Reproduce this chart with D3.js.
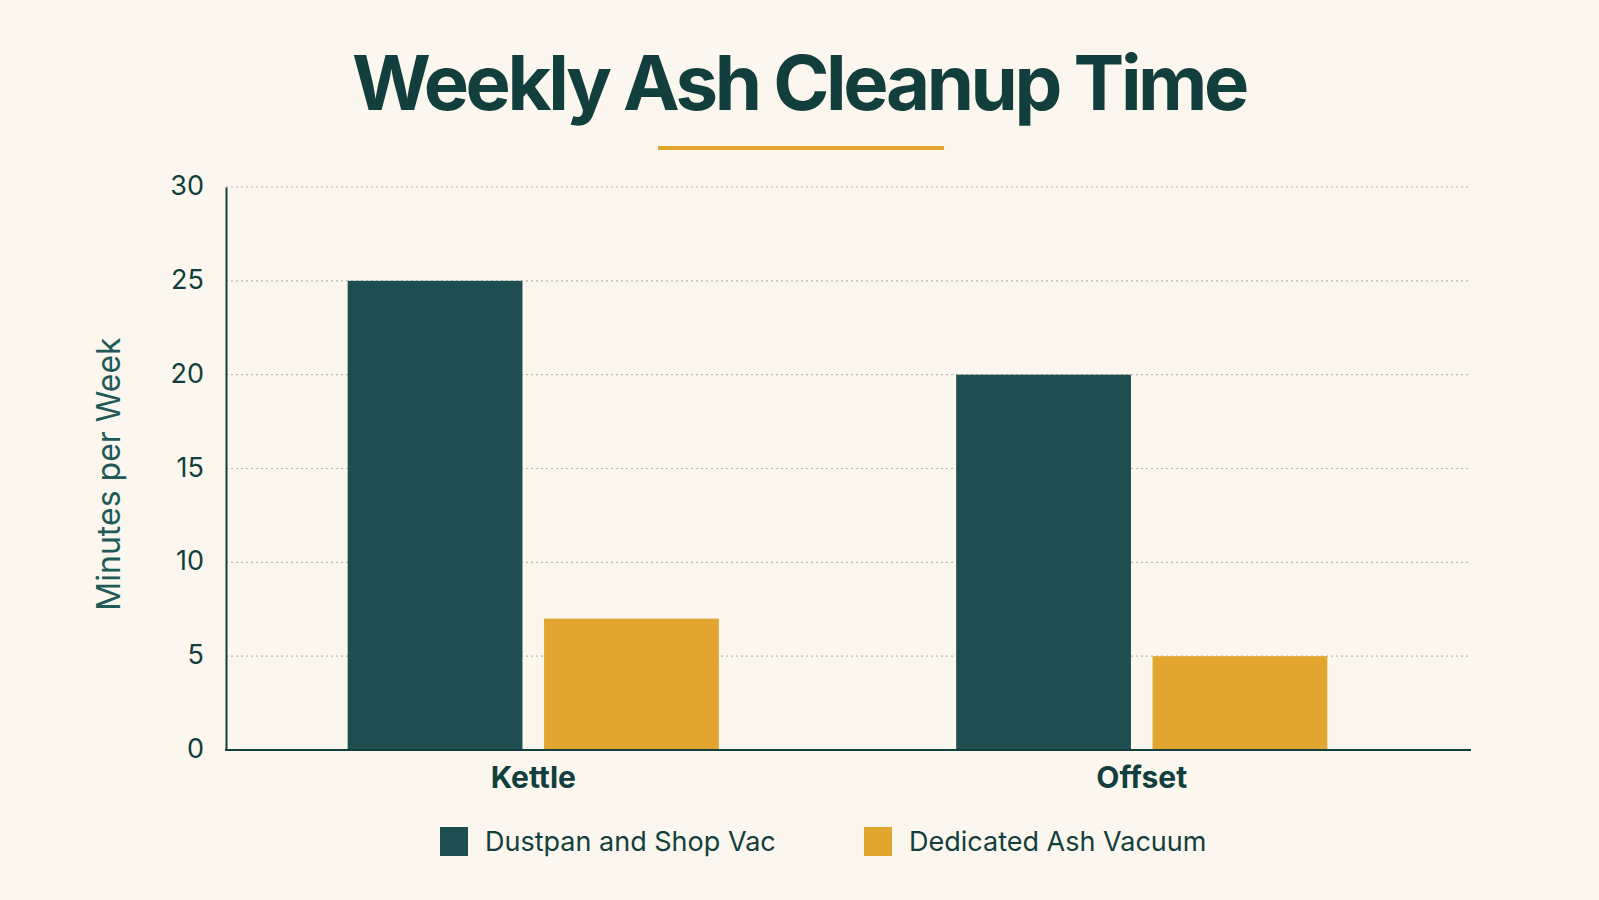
<!DOCTYPE html>
<html>
<head>
<meta charset="utf-8">
<script src="https://cdn.jsdelivr.net/npm/d3@7"></script>
<style>
  body { margin: 0; background: #fbf7ee; }
  svg { display: block; }
</style>
</head>
<body>
<div id="chart"></div>
<script>
// Chart data
const categories = ["Kettle", "Offset"];
const seriesNames = ["Dustpan and Shop Vac", "Dedicated Ash Vacuum"];
const dustpanValues = [25, 20];
const ashVacuumValues = [7, 5];
const yTicks = [0, 5, 10, 15, 20, 25, 30];
const colors = ["#1f4e50", "#e2a630"];

const width = 1599, height = 900;
const ink = "#123f3d";

const svg = d3.select("#chart")
    .append("svg")
    .attr("width", width)
    .attr("height", height);

svg.append("rect")
    .attr("width", width)
    .attr("height", height)
    .attr("fill", "#fbf7ee");

// Title and accent line
svg.append("text")
    .attr("x", 799)
    .attr("y", 110)
    .attr("text-anchor", "middle")
    .attr("font-family", "Inter, 'Open Sans', sans-serif")
    .attr("font-weight", 700)
    .attr("font-size", 76)
    .attr("letter-spacing", -3.4)
    .attr("fill", ink)
    .text("Weekly Ash Cleanup Time");

svg.append("rect")
    .attr("x", 658)
    .attr("y", 146)
    .attr("width", 286)
    .attr("height", 4)
    .attr("fill", "#e0a52f");

// Scales
const y = d3.scaleLinear().domain([0, 30]).range([750, 187]);
const x = d3.scaleBand()
    .domain(categories)
    .range([229, 1446])
    .paddingInner(0.39)
    .paddingOuter(0.195);
const xSub = d3.scaleBand()
    .domain(seriesNames)
    .range([0, x.bandwidth()])
    .paddingInner(0.11);

const plotLeft = 226, plotRight = 1471;

// Grid lines
svg.append("g")
    .selectAll("line")
    .data(yTicks.filter(d => d > 0))
    .join("line")
    .attr("x1", plotLeft)
    .attr("x2", plotRight)
    .attr("y1", d => y(d))
    .attr("y2", d => y(d))
    .attr("stroke", "#b9b6ab")
    .attr("stroke-width", 1.2)
    .attr("stroke-dasharray", "2,3");

// Bars
const rows = categories.map((c, i) => ({
    category: c,
    values: [dustpanValues[i], ashVacuumValues[i]]
}));

svg.append("g")
    .selectAll("g")
    .data(rows)
    .join("g")
    .attr("transform", d => `translate(${x(d.category)},0)`)
    .selectAll("rect")
    .data(d => d.values.map((v, j) => ({ series: seriesNames[j], value: v, j })))
    .join("rect")
    .attr("x", d => xSub(d.series))
    .attr("width", xSub.bandwidth())
    .attr("y", d => y(d.value))
    .attr("height", d => y(0) - y(d.value))
    .attr("fill", d => colors[d.j]);

// Y axis
const yAxis = svg.append("g")
    .attr("transform", `translate(${plotLeft},0)`)
    .call(d3.axisLeft(y).tickValues(yTicks).tickSize(0).tickPadding(22));
yAxis.select(".domain").attr("stroke", ink).attr("stroke-width", 2);
yAxis.selectAll("text")
    .attr("font-family", "Inter, 'Open Sans', sans-serif")
    .attr("font-size", 27)
    .attr("dy", "0.28em")
    .attr("fill", ink);

// X axis baseline
svg.append("line")
    .attr("x1", plotLeft - 1)
    .attr("x2", plotRight)
    .attr("y1", y(0))
    .attr("y2", y(0))
    .attr("stroke", ink)
    .attr("stroke-width", 2);

const xAxis = svg.append("g")
    .attr("transform", `translate(0,${y(0)})`)
    .call(d3.axisBottom(x).tickSize(0).tickPadding(17));
xAxis.select(".domain").remove();
xAxis.selectAll("text")
    .attr("font-family", "Inter, 'Open Sans', sans-serif")
    .attr("font-weight", 700)
    .attr("font-size", 30)
    .attr("fill", ink);

// Y axis title
svg.append("text")
    .attr("transform", "translate(120,474) rotate(-90)")
    .attr("text-anchor", "middle")
    .attr("font-family", "Inter, 'Open Sans', sans-serif")
    .attr("font-size", 32)
    .attr("fill", "#1f5a58")
    .text("Minutes per Week");

// Legend
const legendX = [440, 864];
const legend = svg.append("g")
    .selectAll("g")
    .data(seriesNames)
    .join("g")
    .attr("transform", (d, i) => `translate(${legendX[i]},827)`);
legend.append("rect")
    .attr("width", 28)
    .attr("height", 29)
    .attr("fill", (d, i) => colors[i]);
legend.append("text")
    .attr("x", 45)
    .attr("y", 24)
    .attr("font-family", "Inter, 'Open Sans', sans-serif")
    .attr("font-size", 27)
    .attr("fill", ink)
    .text(d => d);
</script>
</body>
</html>
